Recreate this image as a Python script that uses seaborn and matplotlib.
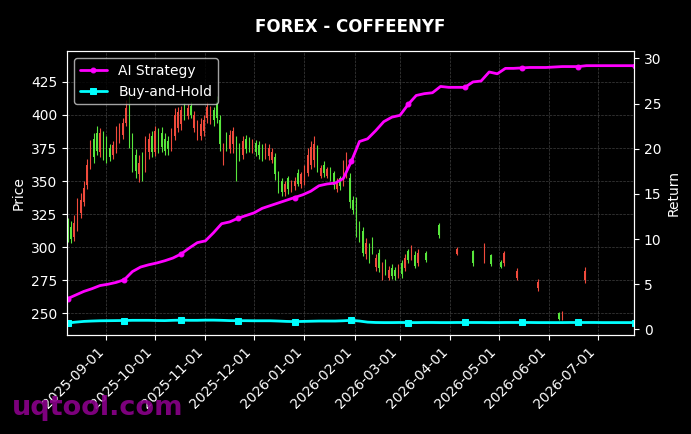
import pandas as pd
import numpy as np
import seaborn as sns
import matplotlib.pyplot as plt
import matplotlib.dates as mdates

# daily-ish candles (every second day) from 2025-08-08 to mid March 2026
dense_start = "2025-08-08"
opens = [318, 315, 308, 316, 326, 334, 347, 362, 382, 386,
         372, 385, 380, 375, 370, 374, 382, 385, 394, 408,
         382, 370, 355, 368, 360, 372, 384, 372, 386, 386,
         382, 380, 376, 384, 390, 393, 406, 399, 407, 390,
         384, 384, 388, 398, 396, 404, 410, 396, 366, 384,
         374, 378, 380, 376, 370, 382, 380, 373, 379, 377,
         374, 370, 369, 366, 368, 355, 350, 342, 352, 344,
         346, 356, 348, 350, 356, 362, 366, 374, 354, 362,
         354, 359, 356, 344, 352, 350, 355, 352, 336, 335,
         316, 312, 295, 300, 306, 285, 296, 278, 288, 277,
         284, 283, 279, 288, 284, 297, 292, 294, 288]
closes = [308, 306, 318, 330, 336, 345, 362, 376, 368, 373,
          386, 372, 367, 368, 377, 388, 391, 394, 405, 380,
          362, 358, 364, 356, 378, 382, 372, 388, 375, 376,
          373, 374, 386, 400, 402, 404, 399, 405, 400, 400,
          392, 393, 396, 406, 404, 396, 398, 378, 375, 376,
          385, 388, 356, 368, 380, 374, 375, 380, 372, 370,
          367, 376, 375, 372, 355, 345, 342, 348, 344, 349,
          350, 348, 355, 358, 370, 376, 378, 360, 360, 356,
          359, 353, 347, 350, 346, 362, 366, 334, 328, 312,
          307, 296, 303, 290, 297, 292, 284, 286, 281, 283,
          278, 278, 285, 280, 292, 290, 299, 286, 296]
highs = [322, 320, 324, 337, 341, 350, 367, 381, 386, 392,
         390, 388, 384, 378, 380, 392, 394, 398, 411, 414,
         386, 374, 370, 372, 384, 386, 388, 392, 390, 391,
         386, 384, 390, 405, 406, 407, 409, 408, 410, 403,
         396, 398, 400, 410, 407, 406, 414, 400, 379, 387,
         389, 391, 384, 379, 384, 385, 383, 382, 381, 380,
         378, 379, 378, 375, 371, 358, 352, 350, 354, 351,
         353, 359, 357, 362, 375, 380, 384, 377, 362, 365,
         361, 361, 358, 352, 354, 366, 372, 356, 339, 338,
         320, 315, 307, 303, 308, 295, 299, 289, 291, 286,
         287, 285, 287, 290, 295, 299, 302, 297, 299]
lows = [304, 303, 305, 312, 322, 331, 344, 359, 364, 370,
        368, 366, 364, 365, 367, 371, 379, 382, 392, 375,
        357, 352, 349, 350, 357, 367, 368, 369, 371, 372,
        370, 370, 373, 381, 387, 389, 396, 397, 398, 387,
        381, 381, 384, 394, 393, 392, 394, 373, 362, 373,
        371, 371, 350, 365, 367, 371, 372, 371, 369, 367,
        365, 367, 366, 364, 351, 341, 339, 339, 340, 342,
        343, 346, 345, 347, 354, 359, 361, 357, 352, 353,
        352, 350, 344, 342, 343, 346, 352, 330, 325, 308,
        304, 293, 291, 288, 295, 282, 281, 275, 279, 275,
        276, 275, 277, 277, 282, 288, 290, 284, 286]

# the few candles left after mid March
sparse_dates = ["2026-03-17", "2026-03-25", "2026-04-05", "2026-04-15",
                "2026-04-22", "2026-04-26", "2026-05-02", "2026-05-04",
                "2026-05-12", "2026-05-25", "2026-06-07", "2026-06-09",
                "2026-06-23"]
sparse_opens = [296, 317, 295, 297, 290, 294, 289, 288, 277, 269, 250, 246, 275]
sparse_highs = [297, 318, 300, 298, 303, 295, 290, 297, 284, 276, 251, 252, 285]
sparse_lows = [289, 307, 294, 286, 288, 286, 284, 286, 275, 267, 245, 245, 273]
sparse_closes = [290, 309, 299, 288, 300, 287, 285, 296, 282, 274, 246, 250, 282]

# strategy curves, one point every 5 days
line_start = "2025-08-08"
ai_strategy = [3.4, 3.8, 4.2, 4.5, 4.85, 5.0, 5.2, 5.5, 6.4, 6.9,
               7.15, 7.35, 7.6, 7.9, 8.35, 9.0, 9.6, 9.8, 10.7, 11.7,
               11.9, 12.3, 12.6, 12.9, 13.4, 13.7, 14.0, 14.3, 14.6, 14.9,
               15.3, 15.9, 16.1, 16.2, 16.7, 18.6, 20.8, 21.1, 22.0, 23.0,
               23.5, 23.7, 24.9, 25.9, 26.1, 26.2, 26.9, 26.8, 26.8, 26.8,
               27.4, 27.5, 28.5, 28.3, 28.9, 28.9, 28.95, 29.0, 29.0, 29.0,
               29.05, 29.1, 29.1, 29.1, 29.2, 29.2, 29.2, 29.2, 29.2, 29.2,
               29.2]
buy_hold = [0.70, 0.80, 0.88, 0.92, 0.95, 0.96, 0.97, 0.98, 1.00, 1.00,
            1.00, 0.98, 0.97, 1.00, 1.02, 1.00, 1.00, 1.02, 1.02, 1.00,
            0.97, 0.96, 0.96, 0.95, 0.95, 0.95, 0.92, 0.88, 0.86, 0.88,
            0.90, 0.92, 0.92, 0.92, 0.95, 1.00, 0.92, 0.80, 0.76, 0.75,
            0.75, 0.76, 0.75, 0.75, 0.76, 0.76, 0.75, 0.75, 0.76, 0.76,
            0.76, 0.76, 0.75, 0.75, 0.76, 0.76, 0.76, 0.76, 0.75, 0.75,
            0.75, 0.75, 0.76, 0.76, 0.76, 0.76, 0.75, 0.75, 0.75, 0.75,
            0.75]

UP_COLOR = "#f04a3c"
DOWN_COLOR = "#58e63c"


def build_candles():
    dense_dates = pd.date_range(dense_start, periods=len(opens), freq="2D")
    dates = list(dense_dates) + list(pd.to_datetime(sparse_dates))
    return pd.DataFrame({
        "date": dates,
        "open": opens + sparse_opens,
        "high": highs + sparse_highs,
        "low": lows + sparse_lows,
        "close": closes + sparse_closes,
    })


def main():
    sns.set_style("dark")
    plt.rcParams.update({
        "figure.facecolor": "black",
        "axes.facecolor": "black",
        "axes.edgecolor": "white",
        "axes.labelcolor": "white",
        "text.color": "white",
        "xtick.color": "white",
        "ytick.color": "white",
        "xtick.bottom": True,
        "ytick.left": True,
        "font.size": 10,
    })
    plt.rcParams["font.family"] = ["DejaVu Sans"]

    candles = build_candles()
    lines = pd.DataFrame({
        "date": pd.date_range(line_start, periods=len(ai_strategy), freq="5D"),
        "ai": ai_strategy,
        "bh": buy_hold,
    })

    fig, ax = plt.subplots(figsize=(6.91, 4.34), dpi=100)
    fig.subplots_adjust(left=0.097, right=0.9175, top=0.882, bottom=0.228)

    # red = close above open, green = close below open
    up = candles["close"] >= candles["open"]
    colors = np.where(up, UP_COLOR, DOWN_COLOR)
    ax.vlines(candles["date"], candles["low"], candles["high"],
              colors=colors, linewidth=0.8)
    body_low = candles[["open", "close"]].min(axis=1)
    body_h = (candles["close"] - candles["open"]).abs()
    ax.bar(candles["date"], body_h, bottom=body_low, width=0.8,
           color=colors, linewidth=0)

    ax.set_ylim(233.6, 448.2)
    ax.set_ylabel("Price")
    ax.grid(True, linestyle="--", linewidth=0.5, color="gray", alpha=0.5)

    ax2 = ax.twinx()
    sns.lineplot(data=lines, x="date", y="ai", ax=ax2, color="magenta",
                 linewidth=2, marker="o", markersize=3.5, markevery=7,
                 markeredgecolor="magenta", label="AI Strategy")
    sns.lineplot(data=lines, x="date", y="bh", ax=ax2, color="cyan",
                 linewidth=2, marker="s", markersize=4, markevery=7,
                 markeredgecolor="cyan", label="Buy-and-Hold")
    ax2.set_ylim(-0.63, 30.8)
    ax2.set_yticks([0, 5, 10, 15, 20, 25, 30])
    ax2.set_ylabel("Return")
    ax2.set_xlabel("")
    ax2.grid(False)
    ax2.tick_params(axis="y", right=True, colors="white")

    ax.set_xlim(pd.Timestamp("2025-08-07 16:00"), pd.Timestamp("2026-07-23 07:00"))
    ax.xaxis.set_major_locator(mdates.MonthLocator(bymonthday=1))
    ax.xaxis.set_major_formatter(mdates.DateFormatter("%Y-%m-%d"))
    plt.setp(ax.get_xticklabels(), rotation=45, ha="right")
    ax.set_xlabel("")

    for sp in ax.spines.values():
        sp.set_color("white")
    for sp in ax2.spines.values():
        sp.set_color("white")

    leg = ax2.legend(loc="upper left", facecolor="black", edgecolor="#cccccc",
                     labelcolor="white", fontsize=10)
    leg.get_frame().set_alpha(0.8)

    fig.suptitle("FOREX - COFFEENYF", fontsize=12, fontweight="bold",
                 color="white", y=0.958, x=0.507)
    fig.text(0.017, 0.044, "uqtool.com", fontsize=19.5, fontweight="bold",
             color="#8b008b", alpha=0.9, va="baseline")

    fig.savefig("out.png", dpi=100, facecolor="black")


if __name__ == "__main__":
    main()
